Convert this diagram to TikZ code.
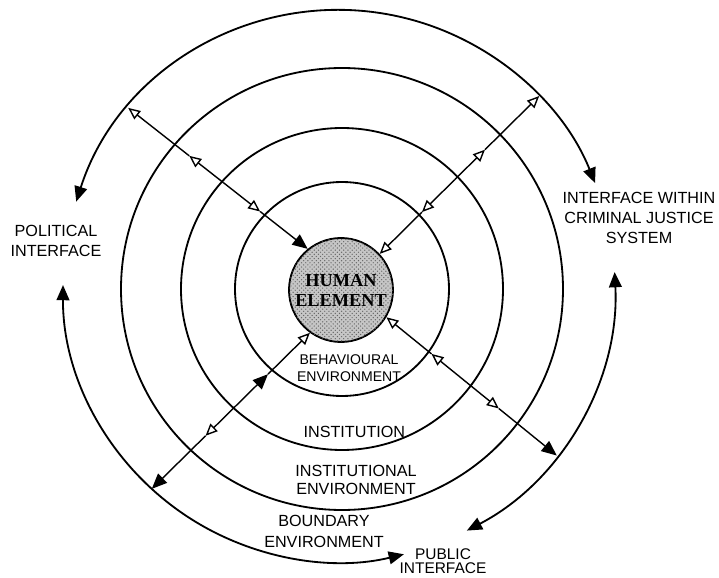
\documentclass[tikz,border=0pt]{standalone}
\usepackage{fontspec}
\setmainfont{Liberation Sans}
\newfontfamily\serifbold{Liberation Serif}
\usepackage{tikz}
\usetikzlibrary{arrows.meta,calc,patterns}
\tikzset{
  shut/.tip={Triangle[length=3.8mm,width=3.2mm]},
  hollow/.tip={Triangle[open,length=3mm,width=2.6mm]}
}

\begin{document}
\begin{tikzpicture}[
  every node/.style={font=\fontsize{11.5}{14.2}\selectfont,align=center,inner sep=0pt},
  ring/.style={line width=1.3pt},
  spoke/.style={line width=1pt},
  iface/.style={line width=1.3pt,shut-shut},
  core/.style={circle,draw,line width=1.3pt,minimum size=2.6cm,fill=gray!45,
               postaction={pattern=crosshatch dots,pattern color=black!60},
               font=\serifbold\bfseries\fontsize{13}{14.2}\selectfont}
]
\useasboundingbox (-8.55,-7.2) rectangle (9.425,7.225);
\coordinate (ctr)  at (0,0);
\coordinate (ctrD) at (-0.075,0.075);

% rings round the human element
\draw[ring] (ctr) circle[radius=2.675];
\draw[ring] (ctr) circle[radius=4.025];
\draw[ring] (ctr) circle[radius=5.525];
\node[core] (human) at (-0.025,-0.025) {HUMAN\\ELEMENT};

% outer ring, split into the three interfaces
\coordinate (top-l)   at ($(ctrD)+(162.2:6.9)$);
\coordinate (right-t) at ($(ctrD)+(2.9:6.9)$);
\coordinate (left-t)  at ($(ctrD)+(179.8:6.9)$);
\draw[iface] (top-l)   arc[start angle=162.2,end angle=21.9,radius=6.9];
\draw[iface] (right-t) arc[start angle=2.9,end angle=-62.4,radius=6.9];
\draw[iface] (left-t)  arc[start angle=179.8,end angle=283.6,radius=6.9];

% upper left spoke
\coordinate (ul-o) at ($(ctrD)+(139.8:6.9)$);
\coordinate (ul-i) at (human.129);
\coordinate (ul-a) at ($(ul-i)!0.265!(ul-o)$);
\coordinate (ul-s) at ($(ul-i)!0.47!(ul-o)$);
\coordinate (ul-b) at ($(ul-i)!0.66!(ul-o)$);
\draw[spoke,-hollow] (ul-s) -- (ul-a);
\draw[spoke,-shut]   (ul-a) -- (ul-i);
\draw[spoke,-hollow] (ul-s) -- (ul-b);
\draw[spoke,-hollow] (ul-b) -- (ul-o);

% upper right spoke
\coordinate (ur-o) at ($(ctrD)+(43.5:6.9)$);
\coordinate (ur-i) at (human.43);
\coordinate (ur-a) at ($(ur-i)!0.265!(ur-o)$);
\coordinate (ur-s) at ($(ur-i)!0.47!(ur-o)$);
\coordinate (ur-b) at ($(ur-i)!0.66!(ur-o)$);
\draw[spoke,-hollow] (ur-s) -- (ur-a);
\draw[spoke,-hollow] (ur-a) -- (ur-i);
\draw[spoke,-hollow] (ur-s) -- (ur-b);
\draw[spoke,-hollow] (ur-b) -- (ur-o);

% lower left spoke
\coordinate (ll-o) at ($(ctrD)+(227.3:6.9)$);
\coordinate (ll-i) at (human.234);
\coordinate (ll-a) at ($(ll-i)!0.265!(ll-o)$);
\coordinate (ll-s) at ($(ll-i)!0.47!(ll-o)$);
\coordinate (ll-b) at ($(ll-i)!0.66!(ll-o)$);
\draw[spoke,-shut]   (ll-s) -- (ll-a);
\draw[spoke,-hollow] (ll-a) -- (ll-i);
\draw[spoke,-hollow] (ll-s) -- (ll-b);
\draw[spoke,-shut]   (ll-b) -- (ll-o);

% lower right spoke
\coordinate (lr-o) at ($(ctrD)+(-37.9:6.9)$);
\coordinate (lr-i) at (human.329);
\coordinate (lr-a) at ($(lr-i)!0.265!(lr-o)$);
\coordinate (lr-s) at ($(lr-i)!0.47!(lr-o)$);
\coordinate (lr-b) at ($(lr-i)!0.66!(lr-o)$);
\draw[spoke,-hollow] (lr-s) -- (lr-a);
\draw[spoke,-hollow] (lr-a) -- (lr-i);
\draw[spoke,-hollow] (lr-s) -- (lr-b);
\draw[spoke,-shut]   (lr-b) -- (lr-o);

% ring labels
\node[font=\fontsize{10}{12.1}\selectfont] (behav) at (0.175,-1.99) {BEHAVIOURAL\\ENVIRONMENT};
\node (inst)    at (0.31,-3.575) {INSTITUTION};
\node[font=\fontsize{11.5}{12.8}\selectfont] (instenv) at (0.35,-4.775) {INSTITUTIONAL\\ENVIRONMENT};
\node[font=\fontsize{11.5}{14.9}\selectfont] (bound) at (-0.45,-6.06) {BOUNDARY\\ENVIRONMENT};

% interface labels
\node (political) at (-7.15,1.2)    {POLITICAL\\INTERFACE};
\node (cjs)       at (7.425,1.7875) {INTERFACE WITHIN\\CRIMINAL JUSTICE\\SYSTEM};
\node[font=\fontsize{11}{10.4}\selectfont] (public) at (2.525,-6.8) {PUBLIC\\INTERFACE};
\end{tikzpicture}
\end{document}
